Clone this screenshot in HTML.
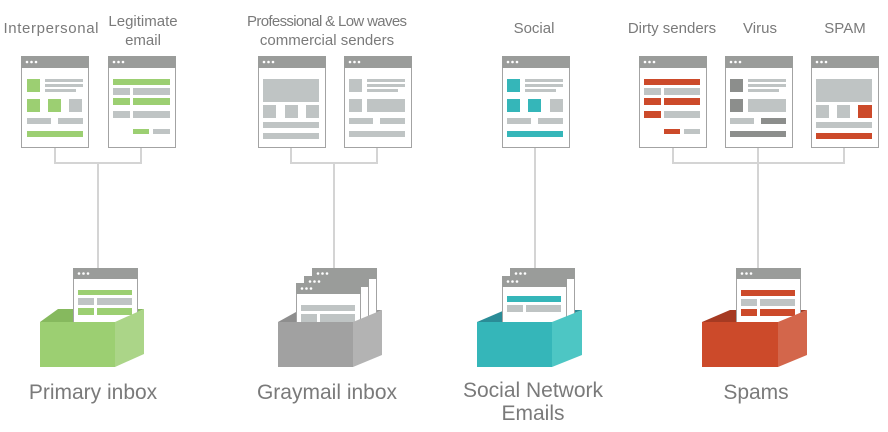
<!DOCTYPE html>
<html><head><meta charset="utf-8"><style>
html,body{margin:0;padding:0;background:#fff;}
svg{display:block;}
text{font-family:"Liberation Sans",sans-serif;fill:#7a7a7a;}
</style></head><body>
<svg width="888" height="432" viewBox="0 0 888 432" xmlns="http://www.w3.org/2000/svg">
<defs>
<g id="frame">
<rect x="0.5" y="0.5" width="67" height="91" fill="#fff" stroke="#a3a3a3"/>
<rect x="0" y="0" width="68" height="12" fill="#9a9c9a"/>
<circle cx="6" cy="6" r="1.3" fill="#fff"/><circle cx="10.5" cy="6" r="1.3" fill="#fff"/><circle cx="15" cy="6" r="1.3" fill="#fff"/>
</g>
<g id="bframe">
<rect x="0.5" y="0.5" width="64" height="60" fill="#fff" stroke="#a3a3a3"/>
<rect x="0" y="0" width="65" height="11" fill="#9a9c9a"/>
<circle cx="6" cy="5.5" r="1.3" fill="#fff"/><circle cx="10.5" cy="5.5" r="1.3" fill="#fff"/><circle cx="15" cy="5.5" r="1.3" fill="#fff"/>
</g>
</defs>

<g stroke="#d4d4d4" stroke-width="2" fill="none">
<path d="M55 147V163H141V147M98 163V268"/>
<path d="M291 147V163H377V147M334 163V268"/>
<path d="M535 147V268"/>
<path d="M673 147V163H844V147M758 147V268"/>
</g>

<g font-size="15" text-anchor="middle">
<text x="51" y="33" textLength="95">Interpersonal</text>
<text x="143" y="26">Legitimate</text><text x="143" y="45">email</text>
<text x="327" y="26" textLength="160">Professional &amp; Low waves</text><text x="327" y="45">commercial senders</text>
<text x="534" y="33">Social</text>
<text x="672" y="33">Dirty senders</text>
<text x="760" y="33">Virus</text>
<text x="845" y="33">SPAM</text>
</g>

<g transform="translate(21,56)"><use href="#frame"/>
<rect x="6" y="23" width="13" height="13" fill="#9ccf72"/>
<rect x="24" y="23" width="38" height="3" fill="#bfc4c4"/><rect x="24" y="28" width="38" height="3" fill="#bfc4c4"/><rect x="24" y="33" width="31" height="3" fill="#bfc4c4"/>
<rect x="6" y="43" width="13" height="13" fill="#9ccf72"/><rect x="27" y="43" width="13" height="13" fill="#9ccf72"/><rect x="48" y="43" width="13" height="13" fill="#bfc4c4"/>
<rect x="6" y="62" width="24" height="6" fill="#bfc4c4"/><rect x="37" y="62" width="25" height="6" fill="#bfc4c4"/>
<rect x="6" y="75" width="56" height="6" fill="#9ccf72"/>
</g>
<g transform="translate(108,56)"><use href="#frame"/>
<rect x="5" y="23" width="57" height="6" fill="#9ccf72"/>
<rect x="5" y="32" width="17" height="7" fill="#bfc4c4"/><rect x="25" y="32" width="37" height="7" fill="#bfc4c4"/>
<rect x="5" y="42" width="17" height="7" fill="#9ccf72"/><rect x="25" y="42" width="37" height="7" fill="#9ccf72"/>
<rect x="5" y="55" width="17" height="7" fill="#bfc4c4"/><rect x="25" y="55" width="37" height="7" fill="#bfc4c4"/>
<rect x="25" y="73" width="16" height="5" fill="#9ccf72"/><rect x="45" y="73" width="17" height="5" fill="#bfc4c4"/>
</g>
<g transform="translate(258,56)"><use href="#frame"/>
<rect x="5" y="23" width="56" height="23" fill="#bfc4c4"/>
<rect x="5" y="49" width="13" height="13" fill="#bfc4c4"/><rect x="27" y="49" width="13" height="13" fill="#bfc4c4"/><rect x="48" y="49" width="13" height="13" fill="#bfc4c4"/>
<rect x="5" y="66" width="56" height="6" fill="#bfc4c4"/><rect x="5" y="77" width="56" height="6" fill="#bfc4c4"/>
</g>
<g transform="translate(344,56)"><use href="#frame"/>
<rect x="5" y="23" width="13" height="13" fill="#bfc4c4"/>
<rect x="23" y="23" width="38" height="3" fill="#bfc4c4"/><rect x="23" y="28" width="38" height="3" fill="#bfc4c4"/><rect x="23" y="33" width="31" height="3" fill="#bfc4c4"/>
<rect x="5" y="43" width="13" height="13" fill="#bfc4c4"/><rect x="23" y="43" width="38" height="13" fill="#bfc4c4"/>
<rect x="5" y="62" width="24" height="6" fill="#bfc4c4"/><rect x="36" y="62" width="25" height="6" fill="#bfc4c4"/>
<rect x="5" y="75" width="56" height="6" fill="#bfc4c4"/>
</g>
<g transform="translate(502,56)"><use href="#frame"/>
<rect x="5" y="23" width="13" height="13" fill="#35b6b9"/>
<rect x="23" y="23" width="38" height="3" fill="#bfc4c4"/><rect x="23" y="28" width="38" height="3" fill="#bfc4c4"/><rect x="23" y="33" width="31" height="3" fill="#bfc4c4"/>
<rect x="5" y="43" width="13" height="13" fill="#35b6b9"/><rect x="26" y="43" width="13" height="13" fill="#35b6b9"/><rect x="48" y="43" width="13" height="13" fill="#bfc4c4"/>
<rect x="5" y="62" width="24" height="6" fill="#bfc4c4"/><rect x="36" y="62" width="25" height="6" fill="#bfc4c4"/>
<rect x="5" y="75" width="56" height="6" fill="#35b6b9"/>
</g>
<g transform="translate(639,56)"><use href="#frame"/>
<rect x="5" y="23" width="56" height="6" fill="#cc4a2a"/>
<rect x="5" y="32" width="17" height="7" fill="#bfc4c4"/><rect x="25" y="32" width="36" height="7" fill="#bfc4c4"/>
<rect x="5" y="42" width="17" height="7" fill="#cc4a2a"/><rect x="25" y="42" width="36" height="7" fill="#cc4a2a"/>
<rect x="5" y="55" width="17" height="7" fill="#cc4a2a"/><rect x="25" y="55" width="36" height="7" fill="#bfc4c4"/>
<rect x="25" y="73" width="16" height="5" fill="#cc4a2a"/><rect x="45" y="73" width="16" height="5" fill="#bfc4c4"/>
</g>
<g transform="translate(725,56)"><use href="#frame"/>
<rect x="5" y="23" width="13" height="13" fill="#8c8e8c"/>
<rect x="23" y="23" width="38" height="3" fill="#bfc4c4"/><rect x="23" y="28" width="38" height="3" fill="#bfc4c4"/><rect x="23" y="33" width="31" height="3" fill="#bfc4c4"/>
<rect x="5" y="43" width="13" height="13" fill="#8c8e8c"/><rect x="23" y="43" width="38" height="13" fill="#bfc4c4"/>
<rect x="5" y="62" width="24" height="6" fill="#bfc4c4"/><rect x="36" y="62" width="25" height="6" fill="#8c8e8c"/>
<rect x="5" y="75" width="56" height="6" fill="#8c8e8c"/>
</g>
<g transform="translate(811,56)"><use href="#frame"/>
<rect x="5" y="23" width="56" height="23" fill="#bfc4c4"/>
<rect x="5" y="49" width="13" height="13" fill="#bfc4c4"/><rect x="26" y="49" width="13" height="13" fill="#bfc4c4"/><rect x="47" y="49" width="14" height="13" fill="#cc4a2a"/>
<rect x="5" y="66" width="56" height="6" fill="#bfc4c4"/><rect x="5" y="77" width="56" height="6" fill="#cc4a2a"/>
</g>

<polygon points="40,322 58,309 144,309 115,322" fill="#86b95e"/>
<g transform="translate(73,268)"><use href="#bframe"/>
<rect x="5" y="22" width="54" height="5" fill="#9ccf72"/>
<rect x="5" y="30" width="16" height="7" fill="#bfc4c4"/><rect x="24" y="30" width="35" height="7" fill="#bfc4c4"/>
<rect x="5" y="40" width="16" height="7" fill="#9ccf72"/><rect x="24" y="40" width="35" height="7" fill="#9ccf72"/>
</g>
<rect x="40" y="322" width="75" height="45" fill="#9ccf72"/>
<polygon points="115,322 144,309 144,354 115,367" fill="#abd588"/>

<polygon points="278,322 296,312 382,310 353,322" fill="#8e8e8e"/>
<g transform="translate(312,268)"><use href="#bframe"/></g>
<g transform="translate(304,276)"><use href="#bframe"/></g>
<g transform="translate(296,283)"><use href="#bframe"/>
<rect x="5" y="22" width="54" height="6" fill="#bfc4c4"/>
<rect x="5" y="31" width="16" height="8" fill="#bfc4c4"/><rect x="24" y="31" width="35" height="8" fill="#bfc4c4"/>
</g>
<rect x="278" y="322" width="75" height="45" fill="#a1a1a1"/>
<polygon points="353,322 382,310 382,355 353,367" fill="#b3b3b3"/>

<polygon points="477,322 505,310 582,310 552,322" fill="#2a8c97"/>
<g transform="translate(510,268)"><use href="#bframe"/></g>
<g transform="translate(502,276)"><use href="#bframe"/>
<rect x="5" y="20" width="54" height="6" fill="#35b6b9"/>
<rect x="5" y="29" width="16" height="7" fill="#bfc4c4"/><rect x="24" y="29" width="35" height="7" fill="#bfc4c4"/>
</g>
<rect x="477" y="322" width="75" height="45" fill="#35b6b9"/>
<polygon points="552,322 582,310 582,355 552,367" fill="#4dc6c4"/>

<polygon points="702,322 730,310 807,310 778,322" fill="#a63a22"/>
<g transform="translate(736,268)"><use href="#bframe"/>
<rect x="5" y="22" width="54" height="6" fill="#cc4a2a"/>
<rect x="5" y="31" width="16" height="7" fill="#bfc4c4"/><rect x="24" y="31" width="35" height="7" fill="#bfc4c4"/>
<rect x="5" y="41" width="16" height="7" fill="#cc4a2a"/><rect x="24" y="41" width="35" height="7" fill="#cc4a2a"/>
</g>
<rect x="702" y="322" width="76" height="45" fill="#cc4a2a"/>
<polygon points="778,322 807,310 807,355 778,367" fill="#d3664b"/>

<g font-size="21" text-anchor="middle">
<text x="93" y="399">Primary inbox</text>
<text x="327" y="399">Graymail inbox</text>
<text x="533" y="397">Social Network</text><text x="533" y="420">Emails</text>
<text x="756" y="399">Spams</text>
</g>
</svg>
</body></html>
